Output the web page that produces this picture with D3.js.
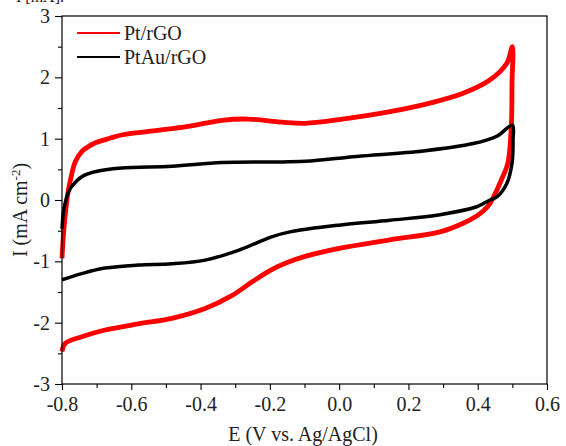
<!DOCTYPE html>
<html>
<head>
<meta charset="utf-8">
<script src="https://cdn.jsdelivr.net/npm/d3@7"></script>
<style>
  body { margin: 0; background: #fff; }
  svg text { font-family: "Liberation Serif", "Times New Roman", serif; fill: #222; }
</style>
</head>
<body>
<div id="chart"></div>
<script>
// Series: potential (V) and current (mA cm-2)
const ptE = [-0.8, -0.795, -0.788, -0.782, -0.772, -0.762, -0.743, -0.724, -0.705, -0.66, -0.628, -0.53, -0.436, -0.339, -0.262, -0.166, -0.098, 0.0, 0.147, 0.262, 0.358, 0.436, 0.484, 0.5,
  0.499, 0.497, 0.487, 0.47, 0.455, 0.436, 0.416, 0.397, 0.358, 0.291, 0.147, 0.0, -0.098, -0.15, -0.2, -0.25, -0.31, -0.387, -0.483, -0.58, -0.676, -0.743, -0.791, -0.8];
const ptI = [-0.95, -0.5, -0.1, 0.15, 0.42, 0.62, 0.79, 0.87, 0.93, 1.01, 1.06, 1.13, 1.2, 1.3, 1.32, 1.27, 1.25, 1.31, 1.44, 1.58, 1.74, 1.96, 2.23, 2.5,
  1.9, 1.2, 0.6, 0.35, 0.16, -0.05, -0.18, -0.26, -0.38, -0.52, -0.65, -0.79, -0.92, -1.02, -1.15, -1.33, -1.56, -1.77, -1.93, -2.02, -2.12, -2.23, -2.34, -2.47];

const ptauE = [-0.8, -0.796, -0.791, -0.782, -0.772, -0.743, -0.705, -0.628, -0.483, -0.339, -0.195, -0.098, 0.051, 0.243, 0.387, 0.455, 0.5,
  0.502, 0.499, 0.484, 0.455, 0.436, 0.416, 0.397, 0.291, 0.147, 0.0, -0.142, -0.195, -0.291, -0.387, -0.483, -0.58, -0.676, -0.743, -0.8];
const ptauI = [-0.47, -0.2, -0.05, 0.12, 0.22, 0.38, 0.46, 0.52, 0.55, 0.61, 0.62, 0.63, 0.71, 0.8, 0.92, 1.04, 1.22,
  0.98, 0.6, 0.27, 0.05, 0.0, -0.06, -0.11, -0.24, -0.33, -0.41, -0.52, -0.6, -0.82, -0.98, -1.04, -1.06, -1.11, -1.2, -1.3];

const seriesNames = ['Pt/rGO', 'PtAu/rGO'];
const seriesColors = ['#ff0000', '#000000'];

const xTicks = [-0.8, -0.6, -0.4, -0.2, 0.0, 0.2, 0.4, 0.6];
const yTicks = [-3, -2, -1, 0, 1, 2, 3];

const width = 566, height = 446;
const margin = { left: 62, right: 19, top: 16, bottom: 62 };
const fontSize = 20;

const svg = d3.select('#chart').append('svg')
  .attr('width', width)
  .attr('height', height);

const x = d3.scaleLinear().domain([-0.8, 0.6]).range([margin.left, width - margin.right]);
const y = d3.scaleLinear().domain([-3, 3]).range([height - margin.bottom, margin.top]);

// Caption remnant cut by the top edge, as in the source image
svg.append('text')
  .attr('x', 16).attr('y', 2)
  .attr('font-size', 16)
  .text('I [mA].');

// Curves (thick strokes stand in for the noisy traces)
const line = d3.line()
  .x(d => x(d[0]))
  .y(d => y(d[1]))
  .curve(d3.curveCatmullRom.alpha(0.5));

const series = [
  { pts: d3.zip(ptE, ptI), width: 4.8 },
  { pts: d3.zip(ptauE, ptauI), width: 3.5 }
];

series.forEach((s, i) => {
  svg.append('path')
    .datum(s.pts)
    .attr('fill', 'none')
    .attr('stroke', seriesColors[i])
    .attr('stroke-width', s.width)
    .attr('stroke-linejoin', 'round')
    .attr('d', line);
});

// Frame
svg.append('rect')
  .attr('x', x(-0.8)).attr('y', y(3))
  .attr('width', x(0.6) - x(-0.8))
  .attr('height', y(-3) - y(3))
  .attr('fill', 'none')
  .attr('stroke', '#000')
  .attr('stroke-width', 1.2);

// Bottom axis: major and minor ticks
svg.append('g')
  .attr('transform', `translate(0,${y(-3)})`)
  .call(d3.axisBottom(x).tickValues(xTicks).tickSize(6).tickPadding(7).tickFormat(d => d.toFixed(1)));
svg.append('g')
  .attr('transform', `translate(0,${y(-3)})`)
  .call(d3.axisBottom(x).tickValues(d3.range(-0.7, 0.6, 0.2)).tickSize(4).tickFormat(''));

// Left axis
const yAxis = svg.append('g')
  .attr('transform', `translate(${x(-0.8)},0)`)
  .call(d3.axisLeft(y).tickValues(yTicks).tickSize(7).tickPadding(5).tickFormat(d => String(d)));
svg.append('g')
  .attr('transform', `translate(${x(-0.8)},0)`)
  .call(d3.axisLeft(y).tickValues(d3.range(-2.5, 3, 1)).tickSize(4).tickFormat(''));

svg.selectAll('.domain').remove();
svg.selectAll('.tick line').attr('stroke', '#000').attr('stroke-width', 1.1);
svg.selectAll('.tick text')
  .attr('font-size', fontSize)
  .attr('font-family', '"Liberation Serif", serif')
  .attr('fill', '#222');
yAxis.selectAll('.tick text').attr('dy', '0.33em');

// Axis titles
svg.append('text')
  .attr('x', 303).attr('y', 441)
  .attr('text-anchor', 'middle')
  .attr('font-size', fontSize)
  .text('E (V vs. Ag/AgCl)');

const yTitle = svg.append('text')
  .attr('transform', 'translate(27,210) rotate(-90)')
  .attr('text-anchor', 'middle')
  .attr('font-size', fontSize);
yTitle.append('tspan').text('I (mA cm');
yTitle.append('tspan').attr('dy', -7).attr('font-size', 13).text('-2');
yTitle.append('tspan').attr('dy', 7).text(')');

// Legend
const legend = svg.append('g');
seriesNames.forEach((name, i) => {
  const ly = 33 + i * 24;
  legend.append('line')
    .attr('x1', 77).attr('x2', 120)
    .attr('y1', ly).attr('y2', ly)
    .attr('stroke', seriesColors[i])
    .attr('stroke-width', 2);
  legend.append('text')
    .attr('x', 124).attr('y', ly + 7)
    .attr('font-size', fontSize)
    .text(name);
});
</script>
</body>
</html>
